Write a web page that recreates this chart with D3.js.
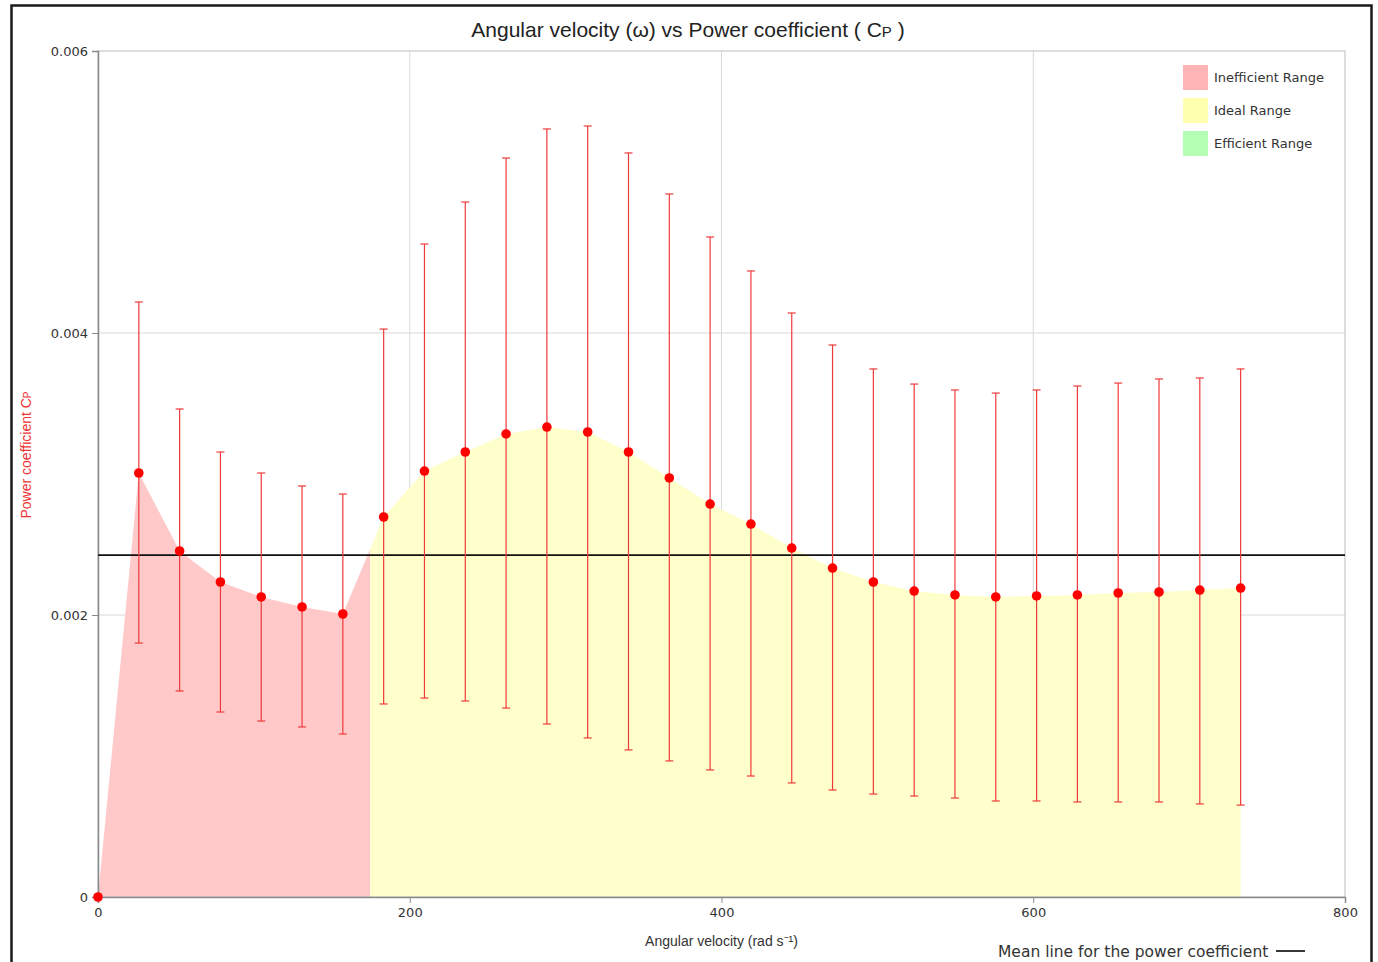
<!DOCTYPE html>
<html>
<head>
<meta charset="utf-8">
<script src="https://cdn.jsdelivr.net/npm/d3@7"></script>
<style>
  body { margin: 0; background: #fff; }
  svg { display: block; }
</style>
</head>
<body>
<div id="chart"></div>
<script>
// angular velocity (rad/s), one sample every 250 rpm
const omega = [0, 26.18, 52.36, 78.54, 104.72, 130.9, 157.08, 183.26, 209.44, 235.62,
  261.8, 287.98, 314.16, 340.34, 366.52, 392.7, 418.88, 445.06, 471.24, 497.42,
  523.6, 549.78, 575.96, 602.14, 628.32, 654.5, 680.68, 706.86, 733.04];

// mean power coefficient
const cp = [0, 0.003007, 0.002454, 0.002234, 0.002128, 0.002057, 0.002007, 0.002695,
  0.003021, 0.003156, 0.003284, 0.003333, 0.003298, 0.003156, 0.002972, 0.002787,
  0.002645, 0.002475, 0.002333, 0.002234, 0.00217, 0.002142, 0.002128, 0.002135,
  0.002142, 0.002156, 0.002163, 0.002177, 0.002191];

// error bar limits
const cpHigh = [0, 0.00422, 0.003461, 0.003156, 0.003007, 0.002915, 0.002858, 0.004028,
  0.004631, 0.004929, 0.005241, 0.005447, 0.005468, 0.005277, 0.004986, 0.004681,
  0.00444, 0.004142, 0.003915, 0.003745, 0.003638, 0.003596, 0.003574, 0.003596,
  0.003624, 0.003645, 0.003674, 0.003681, 0.003745];
const cpLow = [0, 0.001801, 0.001461, 0.001312, 0.001248, 0.001206, 0.001156, 0.001369,
  0.001411, 0.00139, 0.00134, 0.001227, 0.001128, 0.001043, 0.000965, 0.000901,
  0.000858, 0.000809, 0.000759, 0.00073, 0.000716, 0.000702, 0.000681, 0.000681,
  0.000674, 0.000674, 0.000674, 0.00066, 0.000652];

const meanCp = 0.002425;
const rangeSplit = 174.5; // where inefficient range ends and ideal range starts

const xTicks = [0, 200, 400, 600, 800];
const yTicks = [0, 0.002, 0.004, 0.006];

const legendNames = ["Inefficient Range", "Ideal Range", "Efficient Range"];
const legendColors = ["#ffb5b5", "#ffffb0", "#b5ffb5"];

const width = 1378;
const height = 962;
const margin = {top: 51, right: 33, bottom: 65, left: 98};

const svg = d3.select("#chart")
  .append("svg")
  .attr("width", width)
  .attr("height", height);

// outer frame
svg.append("rect")
  .attr("x", 11.5)
  .attr("y", 5.5)
  .attr("width", 1360)
  .attr("height", 990)
  .attr("fill", "none")
  .attr("stroke", "#1a1a1a")
  .attr("stroke-width", 2.5);

let x = d3.scaleLinear()
  .domain([0, 800])
  .range([margin.left, width - margin.right]);

let y = d3.scaleLinear()
  .domain([0, 0.006])
  .range([height - margin.bottom, margin.top]);

// grid
svg.append("g")
  .selectAll("line")
  .data(xTicks.slice(1, -1)).enter()
  .append("line")
  .attr("x1", d => x(d)).attr("x2", d => x(d))
  .attr("y1", y(0)).attr("y2", y(0.006))
  .attr("stroke", "#d8d8d8");

svg.append("g")
  .selectAll("line")
  .data(yTicks.slice(1, -1)).enter()
  .append("line")
  .attr("x1", x(0)).attr("x2", x(800))
  .attr("y1", d => y(d)).attr("y2", d => y(d))
  .attr("stroke", "#d8d8d8");

// split the curve into the two coloured ranges
const pts = omega.map((w, i) => ({w: w, cp: cp[i]}));
const k = pts.findIndex(p => p.w > rangeSplit);
const t = (rangeSplit - pts[k - 1].w) / (pts[k].w - pts[k - 1].w);
const splitPt = {w: rangeSplit, cp: pts[k - 1].cp + t * (pts[k].cp - pts[k - 1].cp)};
const redPts = pts.slice(0, k).concat([splitPt]);
const yellowPts = [splitPt].concat(pts.slice(k));

const area = d3.area()
  .x(d => x(d.w))
  .y0(y(0))
  .y1(d => y(d.cp));

svg.append("path")
  .datum(redPts)
  .attr("d", area)
  .attr("fill", "#ffc9c9");

svg.append("path")
  .datum(yellowPts)
  .attr("d", area)
  .attr("fill", "#ffffcc");

// plot frame
svg.append("rect")
  .attr("x", x(0))
  .attr("y", y(0.006))
  .attr("width", x(800) - x(0))
  .attr("height", y(0) - y(0.006))
  .attr("fill", "none")
  .attr("stroke", "#bdbdbd");

// axes
const xAxis = svg.append("g")
  .attr("transform", `translate(0,${y(0)})`)
  .call(d3.axisBottom(x).tickValues(xTicks).tickFormat(d3.format("d")).tickSize(6).tickPadding(5));

const yAxis = svg.append("g")
  .attr("transform", `translate(${x(0)},0)`)
  .call(d3.axisLeft(y).tickValues(yTicks).tickFormat(d => d === 0 ? "0" : d3.format(".3f")(d)).tickSize(6).tickPadding(4));

[xAxis, yAxis].forEach(a => {
  a.select(".domain").attr("stroke", "#8a8a8a").attr("stroke-width", 1.5);
  a.selectAll(".tick line").attr("stroke", "#8a8a8a");
  a.selectAll(".tick text")
    .attr("fill", "#333")
    .style("font-family", "DejaVu Sans, sans-serif")
    .style("font-size", "13px");
});

// mean line
svg.append("line")
  .attr("x1", x(0)).attr("x2", x(800))
  .attr("y1", y(meanCp)).attr("y2", y(meanCp))
  .attr("stroke", "#111")
  .attr("stroke-width", 1.8);

// error bars
const bars = svg.append("g").attr("stroke", "#f03a3a").attr("stroke-width", 1.2);
omega.forEach((w, i) => {
  if (cpHigh[i] === cpLow[i]) return;
  bars.append("line")
    .attr("x1", x(w)).attr("x2", x(w))
    .attr("y1", y(cpLow[i])).attr("y2", y(cpHigh[i]));
  [cpLow[i], cpHigh[i]].forEach(v => {
    bars.append("line")
      .attr("x1", x(w) - 4).attr("x2", x(w) + 4)
      .attr("y1", y(v)).attr("y2", y(v));
  });
});

// points
svg.append("g")
  .selectAll("circle")
  .data(pts).enter()
  .append("circle")
  .attr("cx", d => x(d.w))
  .attr("cy", d => y(d.cp))
  .attr("r", 4.8)
  .attr("fill", "#ff0000");

// title
const title = svg.append("text")
  .attr("x", 688)
  .attr("y", 37)
  .attr("text-anchor", "middle")
  .style("font-family", "Liberation Sans, Arial, sans-serif")
  .style("font-size", "21px")
  .attr("fill", "#222");
title.append("tspan").text("Angular velocity (ω) vs Power coefficient ( C");
title.append("tspan").style("font-size", "15px").text("P");
title.append("tspan").text(" )");

// axis titles
svg.append("text")
  .attr("x", x(400))
  .attr("y", 946)
  .attr("text-anchor", "middle")
  .style("font-family", "Liberation Sans, Arial, sans-serif")
  .style("font-size", "14px")
  .attr("fill", "#333")
  .text("Angular velocity (rad s⁻¹)");

const yTitle = svg.append("text")
  .attr("transform", "rotate(-90)")
  .attr("x", -455)
  .attr("y", 31)
  .attr("text-anchor", "middle")
  .style("font-family", "Liberation Sans, Arial, sans-serif")
  .style("font-size", "14px")
  .attr("fill", "#ee3333");
yTitle.append("tspan").text("Power coefficient C");
yTitle.append("tspan").style("font-size", "10px").text("P");

// legend
const legend = svg.append("g").attr("transform", "translate(1183,65)");
legendNames.forEach((name, i) => {
  legend.append("rect")
    .attr("x", 0)
    .attr("y", i * 33)
    .attr("width", 25)
    .attr("height", 25)
    .attr("fill", legendColors[i]);
  legend.append("text")
    .attr("x", 31)
    .attr("y", i * 33 + 17)
    .style("font-family", "DejaVu Sans, sans-serif")
    .style("font-size", "13px")
    .attr("fill", "#333")
    .text(name);
});

// mean line note
svg.append("text")
  .attr("x", 998)
  .attr("y", 957)
  .style("font-family", "DejaVu Sans, sans-serif")
  .style("font-size", "15.5px")
  .attr("fill", "#333")
  .text("Mean line for the power coefficient");
svg.append("line")
  .attr("x1", 1276).attr("x2", 1305)
  .attr("y1", 951).attr("y2", 951)
  .attr("stroke", "#222")
  .attr("stroke-width", 1.8);
</script>
</body>
</html>
